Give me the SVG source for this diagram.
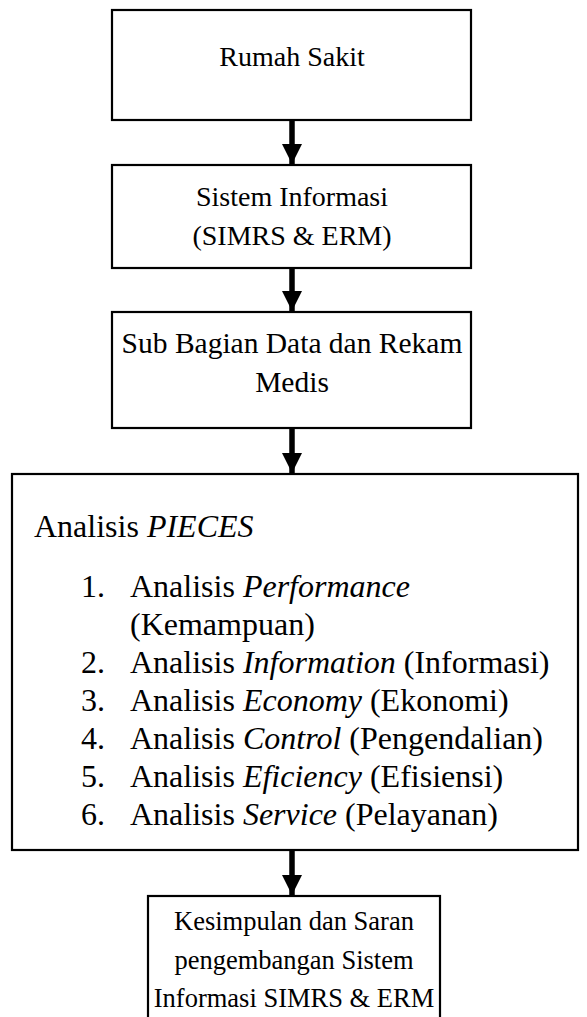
<svg xmlns="http://www.w3.org/2000/svg" width="587" height="1017" viewBox="0 0 587 1017">
  <style>
    .box { fill: #ffffff; stroke: #000000; stroke-width: 2.2; }
    .t { font-family: "Liberation Serif", "Times New Roman", serif; font-size: 32px; fill: #000000; }
    .c { text-anchor: middle; }
    .s26 { font-size: 26.5px; }
    .s28 { font-size: 28px; }
    .s29 { font-size: 29.5px; }
    .conn { stroke: #000000; stroke-width: 5.5; fill: none; marker-end: url(#head); }
  </style>
  <defs>
    <marker id="head" markerUnits="userSpaceOnUse" markerWidth="20" markerHeight="20" refX="18" refY="9" orient="auto" viewBox="0 0 18 18">
      <path d="M0,0 L18,9 L0,18 Z" fill="#000000"/>
    </marker>
  </defs>
  <rect width="587" height="1017" fill="#ffffff"/>

  <g id="connectors">
    <line class="conn" x1="292" y1="120" x2="292" y2="164"/>
    <line class="conn" x1="292" y1="268" x2="292" y2="311"/>
    <line class="conn" x1="292" y1="428" x2="292" y2="473"/>
    <line class="conn" x1="292" y1="850" x2="292" y2="895"/>
  </g>

  <g id="node-rumah-sakit">
    <rect class="box" x="112" y="10" width="359" height="110"/>
    <text class="t c s28" x="292" y="66">Rumah Sakit</text>
  </g>

  <g id="node-sistem-informasi">
    <rect class="box" x="112" y="165" width="359" height="103"/>
    <text class="t c s28" x="292" y="206">Sistem Informasi</text>
    <text class="t c s28" x="292" y="245">(SIMRS &amp; ERM)</text>
  </g>

  <g id="node-sub-bagian">
    <rect class="box" x="112" y="312" width="359" height="116"/>
    <text class="t c s29" x="292" y="353">Sub Bagian Data dan Rekam</text>
    <text class="t c s29" x="292" y="392">Medis</text>
  </g>

  <g id="node-pieces">
    <rect class="box" x="12" y="474" width="566" height="376"/>
    <text class="t" x="34" y="537">Analisis <tspan font-style="italic">PIECES</tspan></text>
    <text class="t" x="81" y="597">1.</text>
    <text class="t" x="130" y="597">Analisis <tspan font-style="italic">Performance</tspan></text>
    <text class="t" x="130" y="635">(Kemampuan)</text>
    <text class="t" x="81" y="673">2.</text>
    <text class="t" x="130" y="673">Analisis <tspan font-style="italic">Information</tspan> (Informasi)</text>
    <text class="t" x="81" y="711">3.</text>
    <text class="t" x="130" y="711">Analisis <tspan font-style="italic">Economy</tspan> (Ekonomi)</text>
    <text class="t" x="81" y="749">4.</text>
    <text class="t" x="130" y="749">Analisis <tspan font-style="italic">Control</tspan> (Pengendalian)</text>
    <text class="t" x="81" y="787">5.</text>
    <text class="t" x="130" y="787">Analisis <tspan font-style="italic">Eficiency</tspan> (Efisiensi)</text>
    <text class="t" x="81" y="825">6.</text>
    <text class="t" x="130" y="825">Analisis <tspan font-style="italic">Service</tspan> (Pelayanan)</text>
  </g>

  <g id="node-kesimpulan">
    <rect class="box" x="148" y="896" width="292" height="140"/>
    <text class="t c s26" x="294" y="930">Kesimpulan dan Saran</text>
    <text class="t c s26" x="294" y="969">pengembangan Sistem</text>
    <text class="t c s26" x="294" y="1007">Informasi SIMRS &amp; ERM</text>
  </g>
</svg>
